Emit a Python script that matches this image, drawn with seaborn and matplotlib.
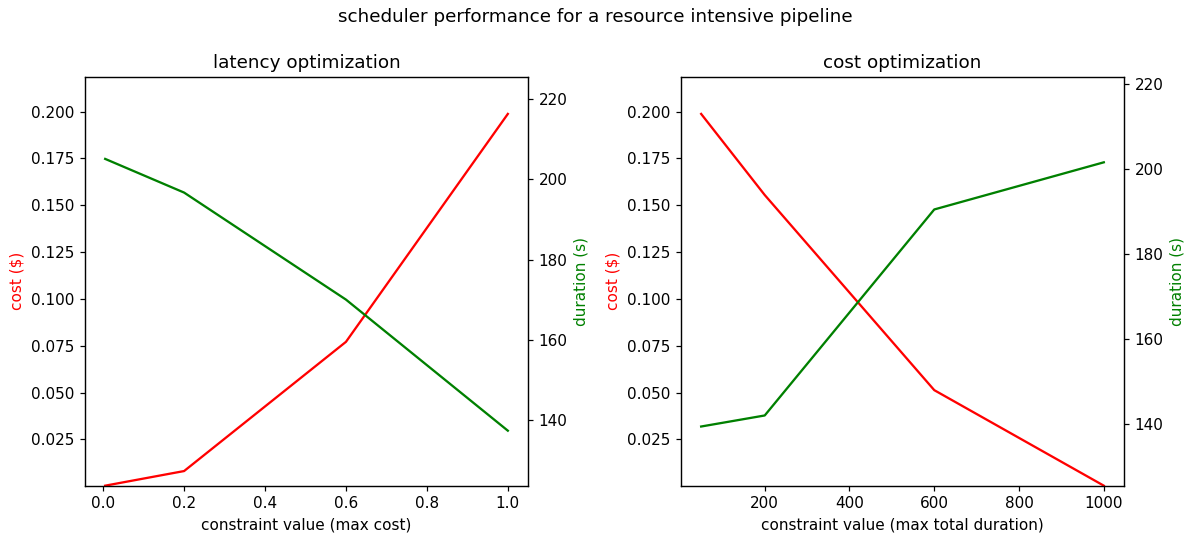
import matplotlib
matplotlib.use("Agg")
import matplotlib.pyplot as plt
import seaborn as sns
import pandas as pd

# latency optimization panel
lat_x = [0.005, 0.2, 0.6, 1.0]
lat_cost = [0.0003, 0.0081, 0.0771, 0.1988]
lat_dur = [205.1, 196.7, 170.0, 137.3]

# cost optimization panel
cst_x = [50, 200, 600, 1000]
cst_cost = [0.1988, 0.1555, 0.0513, 0.0003]
cst_dur = [139.4, 142.0, 190.5, 201.6]

suptitle = "scheduler performance for a resource intensive pipeline"
titles = ["latency optimization", "cost optimization"]
xlabels = ["constraint value (max cost)", "constraint value (max total duration)"]

DPI = 110
fig = plt.figure(figsize=(1191 / DPI, 534 / DPI), dpi=DPI)
ax1 = fig.add_axes([0.0714, 0.0904, 0.3719, 0.7660])
ax2 = fig.add_axes([0.5718, 0.0904, 0.3719, 0.7660])

panels = [(ax1, lat_x, lat_cost, lat_dur), (ax2, cst_x, cst_cost, cst_dur)]
for i, (ax, xs, cost, dur) in enumerate(panels):
    df = pd.DataFrame({"x": xs, "cost": cost, "dur": dur})
    sns.lineplot(data=df, x="x", y="cost", ax=ax, color="red", linewidth=1.5)
    ax.set_ylim(min(cost) * 0.9, max(cost) * 1.1)
    ax.set_ylabel("cost ($)", color="red")
    ax.set_xlabel(xlabels[i])
    ax.set_title(titles[i])
    axt = ax.twinx()
    sns.lineplot(data=df, x="x", y="dur", ax=axt, color="green", linewidth=1.5)
    axt.set_ylim(min(dur) * 0.9, max(dur) * 1.1)
    axt.set_ylabel("duration (s)", color="green")

fig.suptitle(suptitle, y=0.985)
fig.savefig("out.png", dpi=DPI)
